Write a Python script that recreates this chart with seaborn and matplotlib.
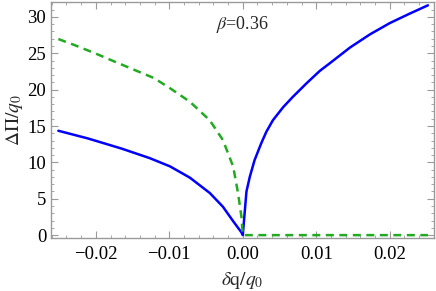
import numpy as np
import pandas as pd
import seaborn as sns
import matplotlib.pyplot as plt
from matplotlib.ticker import MultipleLocator

# values
blue_x = [-0.0251, -0.0211, -0.0165, -0.0127, -0.0099, -0.0072, -0.0045, -0.0027, -0.0013, -0.0002, 0.0,
          0.0005, 0.00095, 0.0016, 0.0025, 0.0032, 0.0041, 0.0055, 0.0068, 0.0087, 0.0105, 0.0118,
          0.0146, 0.0173, 0.0200, 0.0227, 0.0252]
blue_y = [14.35, 13.3, 11.9, 10.6, 9.45, 7.9, 5.8, 3.9, 1.9, 0.4, 0.0,
          6.0, 8.0, 10.3, 12.6, 14.2, 15.8, 17.6, 19.0, 20.9, 22.6, 23.6,
          25.8, 27.6, 29.15, 30.45, 31.6]
green_x = [-0.0251, -0.0229, -0.0201, -0.0174, -0.0147, -0.0121, -0.0099, -0.0072, -0.0045,
           -0.0027, -0.0013, -0.00064, -0.00018, 0.0, 0.0252]
green_y = [26.96, 26.13, 25.0, 23.84, 22.7, 21.6, 20.2, 18.34, 15.8,
           13.07, 9.4, 5.74, 2.5, 0.0, 0.0]

x_ticks = [-0.02, -0.01, 0.0, 0.01, 0.02]
x_labels = ["\u22120.02", "\u22120.01", "0.00", "0.01", "0.02"]
y_ticks = [0, 5, 10, 15, 20, 25, 30]

sns.set_style("ticks")
plt.rcParams['font.family'] = ['Liberation Serif', 'DejaVu Serif']
plt.rcParams['mathtext.fontset'] = 'stix'

fig = plt.figure(figsize=(4.36, 2.91), dpi=100)
ax = fig.add_axes([0.117, 0.182, 0.878, 0.811])

sns.lineplot(x=blue_x, y=blue_y, color="#0000ff", lw=1.8, sort=False, ax=ax)
sns.lineplot(x=green_x, y=green_y, color="#22aa22", lw=1.8, sort=False, ax=ax,
             linestyle=(0, (3.2, 2.2)))

ax.set_xlim(-0.0261, 0.026)
ax.set_ylim(-0.4, 32.05)
ax.set_xticks(x_ticks)
ax.set_xticklabels(x_labels)
ax.set_yticks(y_ticks)
ax.xaxis.set_minor_locator(MultipleLocator(0.002))
ax.yaxis.set_minor_locator(MultipleLocator(1))

grey = "#9a9a9a"
for s in ax.spines.values():
    s.set_color(grey)
    s.set_linewidth(1.0)
ax.tick_params(which="both", direction="in", top=True, right=True, color=grey,
               labelsize=13.5, labelcolor="black")
ax.tick_params(which="major", length=5, width=0.8)
ax.tick_params(which="minor", length=2.5, width=0.6)
ax.tick_params(axis="x", pad=6)

ax.set_xlabel(r"$\delta\mathrm{q}/q_0$", fontsize=14, labelpad=5)
ax.set_ylabel(r"$\Delta\Pi/q_0$", fontsize=14, labelpad=2)
ax.text(0.0, 29, r"$\beta$=0.36", ha="center", va="center", fontsize=13)

fig.savefig("out.png", dpi=100)
